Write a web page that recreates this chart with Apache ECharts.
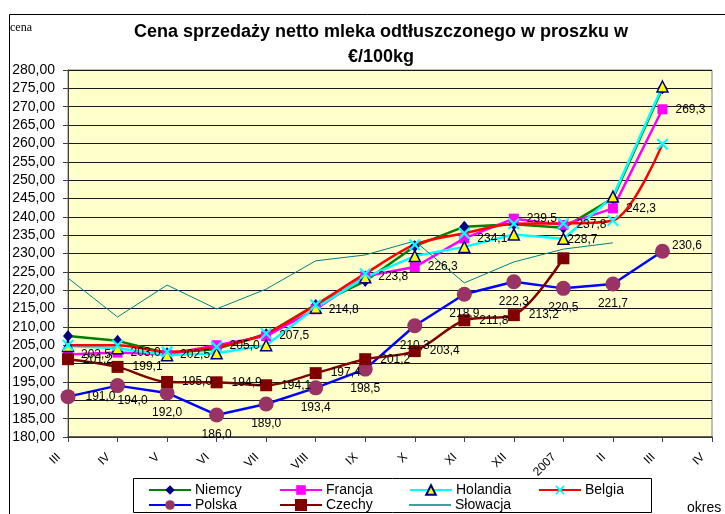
<!DOCTYPE html>
<html>
<head>
<meta charset="utf-8">
<script src="https://cdn.jsdelivr.net/npm/echarts@6/dist/echarts.min.js"></script>
<style>
html,body{margin:0;padding:0;background:#fff;}
#c{width:725px;height:514px;}
</style>
</head>
<body>
<div id="c"></div>
<script>
// ---- data ----
const categories = ['III','IV','V','VI','VII','VIII','IX','X','XI','XII','2007','II','III','IV'];
const niemcy   = [207.5, 206.2, 202.8, 204.0, 208.0, 216.0, 222.5, 232.0, 237.3, 238.0, 237.0, 245.0, 275.0, null];
const francja  = [202.5, 203.0, 202.5, 205.0, 207.5, 214.8, 223.8, 226.3, 234.1, 239.5, 237.8, 242.3, 269.3, null];
const holandia = [204.8, 204.2, 202.3, 202.8, 205.0, 215.2, 223.5, 229.3, 231.8, 235.2, 234.0, 245.5, 275.5, null];
const belgia   = [205.0, 205.0, 203.2, 204.5, 208.2, 216.0, 224.5, 232.4, 235.5, 238.1, 238.2, 239.0, 259.8, null];
const polska   = [191.0, 194.0, 192.0, 186.0, 189.0, 193.4, 198.5, 210.3, 218.9, 222.3, 220.5, 221.7, 230.6, null];
const czechy   = [201.2, 199.1, 195.0, 194.9, 194.1, 197.4, 201.2, 203.4, 211.8, 213.2, 228.7, null, null, null];
const slowacja = [223.3, 212.7, 221.4, 214.9, 220.3, 228.0, 229.6, 233.4, 222.0, 227.7, 231.2, 232.9, null, null];
const seriesNames = ['Niemcy', 'Francja', 'Holandia', 'Belgia', 'Polska', 'Czechy', 'Słowacja'];
const yTicks = {min: 180, max: 280, step: 5};

const FONT = 'Liberation Sans, Arial, sans-serif';
const fmt1 = v => (v == null ? '' : Number(v).toFixed(1).replace('.', ','));
const lbl = (extra) => Object.assign({
  show: true, position: 'right', distance: 8, color: '#000',
  fontFamily: FONT, fontSize: 12,
  formatter: p => fmt1(p.value)
}, extra || {});

const xPath = 'path://M0,1.3 L1.3,0 L5,3.7 L8.7,0 L10,1.3 L6.3,5 L10,8.7 L8.7,10 L5,6.3 L1.3,10 L0,8.7 L3.7,5 Z';

// per-point label placement for Polska and Czechy
const polskaData = polska.map((v, i) => {
  let l;
  if (i === 0) l = {position: 'right', distance: 10};
  else if (i === 12) l = {position: 'right', distance: 2, offset: [0, -6]};
  else if (i === 1) l = {position: 'bottom', distance: 2, offset: [15, 0]};
  else l = {position: 'bottom', distance: 6};
  return {value: v, label: l};
});
const czechyData = czechy.map((v, i) => {
  if (i === 10) return {value: v, label: {position: 'top', distance: 7, offset: [19, 0]}};
  return v;
});

// legend: one legend per entry, laid out in a 4-column grid
const legendCols = [148, 279, 409, 538];
const legendRows = [483, 498];
const legends = seriesNames.map((name, i) => {
  const base = {
    data: [name], padding: 0,
    left: legendCols[i % 4], top: legendRows[Math.floor(i / 4)],
    orient: 'horizontal', itemWidth: 42, itemHeight: 12, itemGap: 0,
    textStyle: {fontFamily: FONT, fontSize: 14, color: '#000', padding: [0, 0, 0, -1]}
  };
  if (name === 'Słowacja') {
    base.data = [{name: name, icon: 'rect', itemStyle: {color: '#008080'}}];
    base.itemHeight = 1.5;
  }
  if (name === 'Czechy') { base.itemHeight = 15; }
  return base;
});

const chart = echarts.init(document.getElementById('c'), null, {renderer: 'canvas'});
const option = {
  animation: false,
  backgroundColor: '#fff',
  textStyle: {fontFamily: FONT},
  title: {
    text: 'Cena sprzedaży netto mleka odtłuszczonego w proszku w\n€/100kg',
    left: 376, top: 15, textAlign: 'center',
    textStyle: {fontFamily: FONT, fontSize: 18, fontWeight: 'bold', color: '#000', lineHeight: 25}
  },
  grid: {
    left: 68, right: 13, top: 70, bottom: 77,
    show: true, backgroundColor: '#FFFFCC', borderColor: '#808080', borderWidth: 1
  },
  xAxis: {
    type: 'category', data: categories, boundaryGap: false,
    axisLine: {show: true, lineStyle: {color: '#404040', width: 1.5}},
    axisTick: {show: true, interval: 0, length: 5, lineStyle: {color: '#404040'}},
    axisLabel: {interval: 0, rotate: 45, margin: 9, padding: [0, 13, 0, 0], color: '#000', fontFamily: FONT, fontSize: 12},
    splitLine: {show: false}
  },
  yAxis: {
    type: 'value', min: yTicks.min, max: yTicks.max, interval: yTicks.step,
    axisLine: {show: true, lineStyle: {color: '#404040', width: 1}},
    axisTick: {show: true, length: 5, lineStyle: {color: '#404040'}},
    axisLabel: {margin: 13, color: '#000', fontFamily: FONT, fontSize: 14,
      formatter: v => v.toFixed(2).replace('.', ',')},
    splitLine: {show: true, lineStyle: {color: '#1a1a1a', width: 1}}
  },
  legend: legends,
  graphic: [
    {type: 'rect', left: 7, top: 12, shape: {width: 800, height: 600}, style: {fill: 'none', stroke: '#000', lineWidth: 1}, silent: true, z: -10},
    {type: 'rect', left: 133, top: 478, shape: {width: 518, height: 34}, style: {fill: '#fff', stroke: '#000', lineWidth: 1}, silent: true, z: 1},
    {type: 'text', left: 10, top: 22, style: {text: 'cena', font: '12px "Liberation Serif", "Times New Roman", serif', fill: '#000'}},
    {type: 'text', left: 687, top: 501, style: {text: 'okres', font: '14px ' + FONT, fill: '#000'}}
  ],
  series: [
    {name: seriesNames[0], type: 'line', data: niemcy, symbol: 'diamond', symbolSize: [10, 12],
      itemStyle: {color: '#000080'}, lineStyle: {color: '#008000', width: 2.5}},
    {name: seriesNames[1], type: 'line', data: francja, symbol: 'rect', symbolSize: 10,
      itemStyle: {color: '#FF00FF'}, lineStyle: {color: '#FF00FF', width: 2.5},
      label: lbl()},
    {name: seriesNames[2], type: 'line', data: holandia, symbol: 'triangle', symbolSize: 11,
      itemStyle: {color: '#FFFF00', borderColor: '#000080', borderWidth: 1.5}, lineStyle: {color: '#00FFFF', width: 2.5}},
    {name: seriesNames[3], type: 'line', data: belgia, symbol: xPath, symbolSize: 12, smooth: 0.3,
      itemStyle: {color: '#00FFFF'}, lineStyle: {color: '#FF0000', width: 2.5}},
    {name: seriesNames[4], type: 'line', data: polskaData, symbol: 'circle', symbolSize: 15,
      itemStyle: {color: '#993366'}, lineStyle: {color: '#0000FF', width: 2.5},
      label: lbl()},
    {name: seriesNames[5], type: 'line', data: czechyData, symbol: 'rect', symbolSize: 12, smooth: 0.3,
      itemStyle: {color: '#800000'}, lineStyle: {color: '#800000', width: 2.5},
      label: lbl({distance: 9})},
    {name: seriesNames[6], type: 'line', data: slowacja, symbol: 'none',
      itemStyle: {color: '#008080'}, lineStyle: {color: '#008080', width: 1}}
  ]
};
chart.setOption(option);
</script>
</body>
</html>
